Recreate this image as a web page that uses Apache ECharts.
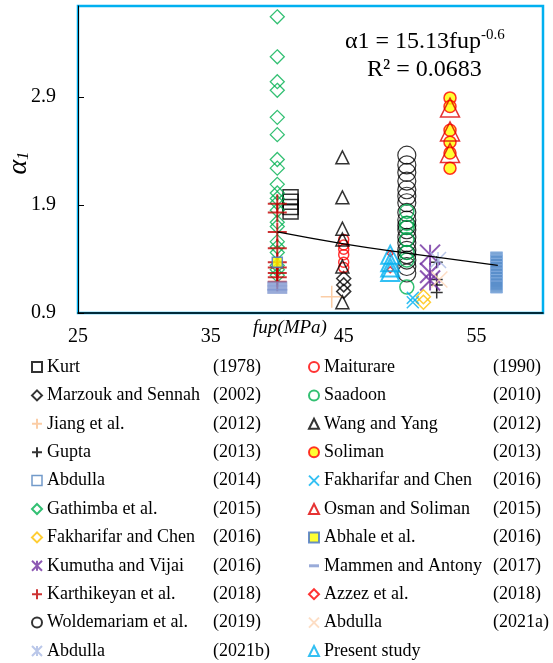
<!DOCTYPE html>
<html>
<head>
<meta charset="utf-8">
<script src="https://cdn.jsdelivr.net/npm/echarts@6/dist/echarts.min.js"></script>
<style>
  html, body { margin: 0; padding: 0; background: #fff; }
  #chart { width: 553px; height: 663px; }
</style>
</head>
<body>
<div id="chart"></div>
<script>
// fup (MPa) of each data group and the alpha1 values
const kurtAlpha = [1.97, 1.93, 1.88, 1.84];
const marzoukAlpha = [1.22, 1.16, 1.10];
const jiangAlpha = [1.05];
const guptaAlpha = [1.37, 1.21, 1.16, 1.09];
const abdulla2014Alpha = [1.41, 1.38, 1.35, 1.32, 1.29, 1.26, 1.23, 1.20, 1.17, 1.14];
const gathimbaAlpha = [3.64, 3.27, 3.04, 2.96, 2.71, 2.55, 2.32, 2.24, 2.09, 2.01, 1.96, 1.92, 1.85, 1.74, 1.70, 1.56, 1.51, 1.46, 1.34, 1.30, 1.25];
const fakharifarDiaAlpha = [1.05, 1.00];
const kumuthaAlpha = [1.44, 1.27, 1.20];
const karthikeyanAlpha = [1.91, 1.83, 1.65, 1.50, 1.37, 1.32, 1.27, 1.23, 1.19];
const woldemariamAlpha = [2.36, 2.27, 2.20, 2.12, 2.04, 1.98, 1.92, 1.83, 1.76, 1.71, 1.67, 1.60, 1.55, 1.48, 1.44, 1.39, 1.33, 1.27];
const abdulla2021bAlpha = [1.39];
const maiturareAlpha = [1.58, 1.53, 1.49, 1.44, 1.37, 1.32];
const saadoonAlpha = [1.84, 1.73, 1.69, 1.58, 1.46, 1.39, 1.14];
const wangAlpha = [2.34, 1.97, 1.68, 1.58, 1.33, 1.00];
const solimanAlpha = [2.89, 2.81, 2.59, 2.48, 2.38, 2.24];
const fakharifarXAlpha = [1.04, 1.00];
const osmanAlpha = [2.80, 2.58, 2.38];
const abhaleAlpha = [1.37];
const mammenAlpha = [1.17, 1.13, 1.10];
const azzezAlpha = [1.45, 1.30];
const abdulla2021aAlpha = [1.21];
const presentAlpha = [1.44, 1.37, 1.32, 1.28];

// power trend line alpha1 = 15.13 fup^-0.6, read at a few points
const trendFup = [40, 45, 50, 56.6];
const trendAlpha = [1.65, 1.54, 1.45, 1.34];

const xTicks = [25, 35, 45, 55];
const yTicks = [0.9, 1.9, 2.9];

const PLUS = 'path://M0,5L10,5M5,0L5,10';
const CROSS = 'path://M0,0L10,10M10,0L0,10';
const STAR = 'path://M0,0L10,10M10,0L0,10M5,0L5,10';
const DASH_ICON = 'path://M0,0M10,10M0,3.5L10,3.5L10,6.5L0,6.5Z';

// [key, author, year, fup, values, symbol, size, stroke, fill, lineWidth]
const groups = [
  ['kurt', 'Kurt', '(1978)', 41, kurtAlpha, 'rect', 15, '#000', null, 1.5],
  ['marzouk', 'Marzouk and Sennah', '(2002)', 45, marzoukAlpha, 'diamond', 14, '#000', null, 1.5],
  ['jiang', 'Jiang et al.', '(2012)', 44.1, jiangAlpha, PLUS, 22, '#fac090', null, 1.5],
  ['gupta', 'Gupta', '(2013)', 52, guptaAlpha, PLUS, 12, '#000', null, 1.5],
  ['abd14', 'Abdulla', '(2014)', 56.5, abdulla2014Alpha, 'rect', 12, '#8db3e2', '#5a8ecb', 1],
  ['gathimba', 'Gathimba et al.', '(2015)', 40, gathimbaAlpha, 'diamond', 14, '#00b050', null, 1.3],
  ['fakDia', 'Fakharifar and Chen', '(2016)', 51, fakharifarDiaAlpha, 'diamond', 14, '#ffc000', null, 1.5],
  ['kumutha', 'Kumutha and Vijai', '(2016)', 51.5, kumuthaAlpha, STAR, 20, '#7030a0', null, 2],
  ['karthik', 'Karthikeyan et al.', '(2018)', 40, karthikeyanAlpha, PLUS, 19, '#c00000', null, 2],
  ['wolde', 'Woldemariam et al.', '(2019)', 49.75, woldemariamAlpha, 'circle', 18, '#000', null, 1.2],
  ['abd21b', 'Abdulla', '(2021b)', 52.1, abdulla2021bAlpha, STAR, 16, '#a9b9e3', null, 1.5],
  ['maiturare', 'Maiturare', '(1990)', 45, maiturareAlpha, 'circle', 10, '#ff0000', null, 1.5],
  ['saadoon', 'Saadoon', '(2010)', 49.75, saadoonAlpha, 'circle', 14, '#00b050', null, 1.5],
  ['wang', 'Wang and Yang', '(2012)', 44.9, wangAlpha, 'triangle', 13, '#000', null, 1.5],
  ['soliman', 'Soliman', '(2013)', 53, solimanAlpha, 'circle', 12, '#ff0000', '#ffff00', 1.5],
  ['fakX', 'Fakharifar and Chen', '(2016)', 50.2, fakharifarXAlpha, CROSS, 12, '#00b0f0', null, 1.5],
  ['osman', 'Osman and Soliman', '(2015)', 53, osmanAlpha, 'triangle', 19, '#e00000', null, 1.5],
  ['abhale', 'Abhale et al.', '(2016)', 40, abhaleAlpha, 'rect', 10, '#4472c4', '#ffff00', 1.5],
  ['mammen', 'Mammen and Antony', '(2017)', 40, mammenAlpha, 'rect', [20, 5], '#8096d0', '#8096d0', 0],
  ['azzez', 'Azzez et al.', '(2018)', 48.5, azzezAlpha, 'diamond', 6, '#ff0000', null, 1.5],
  ['abd21a', 'Abdulla', '(2021a)', 52.2, abdulla2021aAlpha, CROSS, 16, '#fcd5b5', null, 1.5],
  ['present', 'Present study', '', 48.5, presentAlpha, 'triangle', 18, '#00b0f0', null, 2]
];

const leftKeys = groups.slice(0, 11).map(g => g[0]);
const rightKeys = groups.slice(11).map(g => g[0]);
const byKey = {};
groups.forEach(g => { byKey[g[0]] = g; });

const serif = 'Liberation Serif';

const scatterSeries = groups.map(g => ({
  name: g[0],
  type: 'scatter',
  symbol: g[5],
  symbolSize: g[6],
  itemStyle: {
    color: g[8] || 'rgba(0,0,0,0)',
    borderColor: g[7],
    borderWidth: g[9]
  },
  emphasis: { disabled: true },
  data: g[4].map(v => [g[3], v])
}));

function legendItem(k) {
  if (k === 'mammen') return { name: k, icon: DASH_ICON };
  // legend shows Abdulla (2014) as a hollow square
  if (k === 'abd14') return { name: k, itemStyle: { color: 'rgba(0,0,0,0)', borderColor: '#4f81bd', borderWidth: 1.5 } };
  return k;
}

function legendFor(keys, left, nameWidth) {
  return {
    orient: 'vertical',
    left: left,
    top: 357,
    padding: 0,
    itemWidth: 10,
    itemHeight: 10,
    itemGap: 8.4,
    selectedMode: false,
    data: keys.map(legendItem),
    formatter: k => `{a|${byKey[k][1]}}{b|${byKey[k][2]}}`,
    textStyle: {
      fontFamily: serif,
      fontSize: 18,
      color: '#000',
      lineHeight: 20,
      rich: {
        a: { fontFamily: serif, fontSize: 18, color: '#000', width: nameWidth, lineHeight: 20 },
        b: { fontFamily: serif, fontSize: 18, color: '#000', lineHeight: 20 }
      }
    }
  };
}

const chart = echarts.init(document.getElementById('chart'), null, { renderer: 'canvas' });

chart.setOption({
  animation: false,
  backgroundColor: '#fff',
  grid: {
    left: 78, right: 10, top: 6, bottom: 350,
    show: true,
    borderColor: '#00b0f0',
    borderWidth: 2.5
  },
  legend: [legendFor(leftKeys, 31, 166), legendFor(rightKeys, 308, 169)],
  xAxis: {
    type: 'value',
    min: 25, max: 60, interval: 10,
    axisLine: { show: true, onZero: false, lineStyle: { color: '#000', width: 1.5 } },
    axisTick: { show: false },
    splitLine: { show: false },
    axisLabel: {
      margin: 14,
      showMaxLabel: false,
      fontFamily: serif, fontSize: 20, color: '#000',
      formatter: v => xTicks.includes(v) ? String(v) : ''
    }
  },
  yAxis: {
    type: 'value',
    min: 0.9, max: 3.74, interval: 1,
    axisLine: { show: true, onZero: false, lineStyle: { color: '#000', width: 1 } },
    axisTick: { show: true, inside: true, length: 6, lineStyle: { color: '#000' } },
    splitLine: { show: false },
    axisLabel: {
      margin: 22,
      showMaxLabel: false,
      fontFamily: serif, fontSize: 20, color: '#000',
      formatter: v => {
        const t = yTicks.find(y => Math.abs(y - v) < 1e-6);
        return t !== undefined ? t.toFixed(1) : '';
      }
    }
  },
  series: scatterSeries.concat([{
    name: 'trend',
    type: 'line',
    symbol: 'none',
    smooth: true,
    lineStyle: { color: '#000', width: 1.2 },
    emphasis: { disabled: true },
    z: 3,
    data: trendFup.map((x, i) => [x, trendAlpha[i]])
  }]),
  graphic: [
    {
      type: 'text', left: 345, top: 28,
      style: {
        text: '{a|α1 = 15.13fup}{s|-0.6}',
        rich: {
          a: { fontFamily: serif, fontSize: 24, fill: '#000' },
          s: { fontFamily: serif, fontSize: 15, fill: '#000', padding: [0, 0, 12, 0] }
        }
      }
    },
    {
      type: 'text', left: 367, top: 58,
      style: { text: 'R² = 0.0683', font: '24px "Liberation Serif"', fill: '#000' }
    },
    {
      type: 'text', x: 19, y: 163, rotation: Math.PI / 2,
      style: {
        text: '{a|α}{s|1}',
        align: 'center', verticalAlign: 'middle',
        rich: {
          a: { fontFamily: serif, fontSize: 28, fontStyle: 'italic', fill: '#000' },
          s: { fontFamily: serif, fontSize: 17, fontStyle: 'italic', fill: '#000', padding: [10, 0, 0, 0] }
        }
      }
    },
    {
      type: 'text', x: 290, y: 328,
      style: {
        text: 'fup(MPa)', align: 'center', verticalAlign: 'middle',
        font: 'italic 19px "Liberation Serif"', fill: '#000'
      }
    }
  ]
});
</script>
</body>
</html>
